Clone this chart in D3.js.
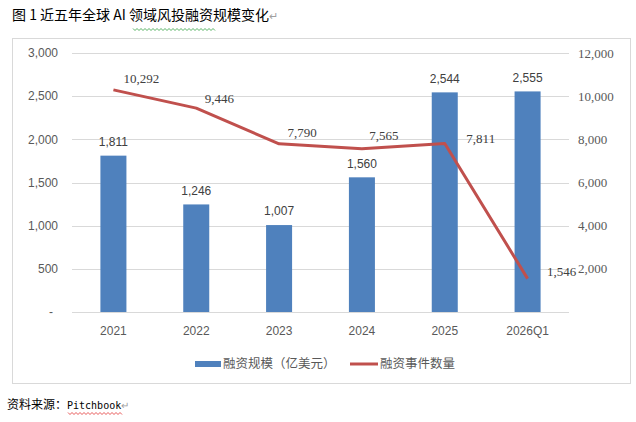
<!DOCTYPE html>
<html>
<head>
<meta charset="utf-8">
<script src="https://cdn.jsdelivr.net/npm/d3@7"></script>
<style>
  body { margin: 0; background: #fff; }
</style>
</head>
<body>
<script>
// data
var categories = ["2021", "2022", "2023", "2024", "2025", "2026Q1"];
var amounts = [1811, 1246, 1007, 1560, 2544, 2555];      // 融资规模（亿美元）
var dealCounts = [10292, 9446, 7790, 7565, 7811, 1546];   // 融资事件数量
var leftTicks = [0, 500, 1000, 1500, 2000, 2500, 3000];
var rightTicks = [2000, 4000, 6000, 8000, 10000, 12000];

var width = 636, height = 422;

var svg = d3.select("body")
            .append("svg")
            .attr("width", width)
            .attr("height", height);

svg.append("rect")
   .attr("x", 12.5).attr("y", 38.5)
   .attr("width", 618).attr("height", 345)
   .attr("fill", "none")
   .attr("stroke", "#D9D9D9");

var fmt = d3.format(",");

var x = d3.scaleBand()
          .domain(categories)
          .range([72, 569])
          .paddingInner(0.686)
          .paddingOuter(0.343);

var yL = d3.scaleLinear().domain([0, 3000]).range([312, 53]);
var yR = d3.scaleLinear().domain([0, 12000]).range([312, 53]);

// grid
svg.append("g")
   .selectAll("line")
   .data(leftTicks)
   .enter()
   .append("line")
   .attr("x1", 72).attr("x2", 569)
   .attr("y1", function(d){ return Math.round(yL(d)) + 0.5; })
   .attr("y2", function(d){ return Math.round(yL(d)) + 0.5; })
   .attr("stroke", "#D9D9D9")
   .attr("stroke-width", 1);

// left axis labels
svg.append("g")
   .selectAll("text")
   .data(leftTicks)
   .enter()
   .append("text")
   .attr("x", function(d){ return d === 0 ? 53 : 58; })
   .attr("y", function(d){ return yL(d); })
   .attr("dy", "0.35em")
   .attr("text-anchor", "end")
   .attr("font-family", "Liberation Sans, Arial, sans-serif")
   .attr("font-size", 12)
   .attr("fill", "#595959")
   .text(function(d){ return d === 0 ? "-" : fmt(d); });

// right axis labels
svg.append("g")
   .selectAll("text")
   .data(rightTicks)
   .enter()
   .append("text")
   .attr("x", 578)
   .attr("y", function(d){ return yR(d); })
   .attr("dy", "0.35em")
   .attr("font-family", "Liberation Serif, serif")
   .attr("font-size", 13)
   .attr("fill", "#595959")
   .text(function(d){ return fmt(d); });

// category labels
svg.append("g")
   .selectAll("text")
   .data(categories)
   .enter()
   .append("text")
   .attr("x", function(d){ return x(d) + x.bandwidth() / 2; })
   .attr("y", 331)
   .attr("dy", "0.35em")
   .attr("text-anchor", "middle")
   .attr("font-family", "Liberation Sans, Arial, sans-serif")
   .attr("font-size", 12)
   .attr("fill", "#595959")
   .text(function(d){ return d; });

// bars
svg.append("g")
   .selectAll("rect")
   .data(amounts)
   .enter()
   .append("rect")
   .attr("x", function(d, i){ return x(categories[i]); })
   .attr("y", function(d){ return yL(d); })
   .attr("width", x.bandwidth())
   .attr("height", function(d){ return yL(0) - yL(d); })
   .attr("fill", "#4F81BD");

svg.append("g")
   .selectAll("text")
   .data(amounts)
   .enter()
   .append("text")
   .attr("x", function(d, i){ return x(categories[i]) + x.bandwidth() / 2; })
   .attr("y", function(d){ return yL(d) - 14; })
   .attr("dy", "0.35em")
   .attr("text-anchor", "middle")
   .attr("font-family", "Liberation Sans, Arial, sans-serif")
   .attr("font-size", 12)
   .attr("fill", "#404040")
   .text(function(d){ return fmt(d); });

// line
var line = d3.line()
             .x(function(d, i){ return x(categories[i]) + x.bandwidth() / 2; })
             .y(function(d){ return yR(d); });

svg.append("path")
   .datum(dealCounts)
   .attr("d", line)
   .attr("fill", "none")
   .attr("stroke", "#C0504D")
   .attr("stroke-width", 3)
   .attr("stroke-linejoin", "round");

var shiftX = [28, 23, 23, 22, 36, 34];
var shiftY = [-11, -10, -11, -13, -5, -7];

svg.append("g")
   .selectAll("text")
   .data(dealCounts)
   .enter()
   .append("text")
   .attr("x", function(d, i){ return x(categories[i]) + x.bandwidth() / 2 + shiftX[i]; })
   .attr("y", function(d, i){ return yR(d) + shiftY[i]; })
   .attr("dy", "0.35em")
   .attr("text-anchor", "middle")
   .attr("font-family", "Liberation Serif, serif")
   .attr("font-size", 13)
   .attr("fill", "#404040")
   .text(function(d){ return fmt(d); });

// legend
var legend = svg.append("g")
                .attr("font-family", "Noto Sans CJK SC, sans-serif")
                .attr("font-size", 12.5)
                .attr("fill", "#595959");

legend.append("rect")
      .attr("x", 195).attr("y", 361)
      .attr("width", 26).attr("height", 6)
      .attr("fill", "#4F81BD");
legend.append("text")
      .attr("x", 223).attr("y", 364)
      .attr("dy", "0.35em")
      .text("融资规模（亿美元）");

legend.append("line")
      .attr("x1", 350).attr("x2", 378)
      .attr("y1", 364).attr("y2", 364)
      .attr("stroke", "#C0504D")
      .attr("stroke-width", 3);
legend.append("text")
      .attr("x", 380).attr("y", 364)
      .attr("dy", "0.35em")
      .text("融资事件数量");

// title and source, with the editor marks of the original
function wavy(x0, x1, y, color) {
  var pts = d3.range(x0, x1 + 0.1, 2).map(function(v, i){ return [v, y + (i % 2 ? 1.5 : -0.5)]; });
  svg.append("path")
     .attr("d", d3.line()(pts))
     .attr("fill", "none")
     .attr("stroke", color)
     .attr("stroke-width", 0.8);
}

var title = svg.append("text")
               .attr("x", 12).attr("y", 15)
               .attr("dy", "0.35em")
               .attr("font-family", "Noto Sans CJK SC, sans-serif")
               .attr("font-size", 14)
               .attr("fill", "#000");
title.append("tspan").text("图 1 近五年全球 AI 领域风投融资规模变化");
title.append("tspan").attr("fill", "#A0A0A0").attr("font-size", 11).text("↵");
wavy(133, 215, 29, "#2E9E3E");

var source = svg.append("text")
                .attr("x", 7).attr("y", 405)
                .attr("dy", "0.35em")
                .attr("font-family", "Noto Sans CJK SC, sans-serif")
                .attr("font-size", 12)
                .attr("fill", "#000");
source.append("tspan").text("资料来源：");
source.append("tspan").attr("font-family", "DejaVu Sans Mono, monospace").attr("font-size", 10).text("Pitchbook");
source.append("tspan").attr("fill", "#A0A0A0").attr("font-size", 10).text("↵");
wavy(68, 122, 413, "#E03030");
</script>
</body>
</html>
